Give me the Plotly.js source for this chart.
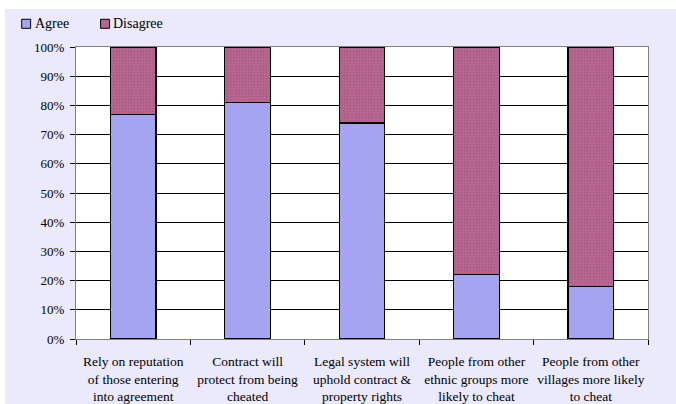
<!DOCTYPE html>
<html>
<head>
<meta charset="utf-8">
<script src="https://cdn.plot.ly/plotly-3.0.1.min.js"></script>
<style>
html,body{margin:0;padding:0;background:#ffffff;width:676px;height:404px;overflow:hidden;}
#chart{position:absolute;left:5px;top:9px;width:671px;height:395px;}
</style>
</head>
<body>
<div id="chart"></div>
<script>
var categories = [
  "Rely on reputation<br>of those entering<br>into agreement",
  "Contract will<br>protect from being<br>cheated",
  "Legal system will<br>uphold contract &<br>property rights",
  "People from other<br>ethnic groups more<br>likely to cheat",
  "People from other<br>villages more likely<br>to cheat"
];
var seriesNames = ["Agree", "Disagree"];
var agree = [77, 81, 74, 22, 18];
var disagree = [23, 19, 26, 78, 82];
var seriesColors = ["#a4a4f0", "#b86690"];
var yTickVals = [0,10,20,30,40,50,60,70,80,90,100];
var yTickText = ["0%","10%","20%","30%","40%","50%","60%","70%","80%","90%","100%"];

var fontFam = "'Liberation Serif', 'Times New Roman', 'DejaVu Serif', serif";

var traces = [
  {type:"bar", name:seriesNames[0], x:categories, y:agree,
   marker:{color:seriesColors[0], line:{color:"#000000", width:1.2}}},
  {type:"bar", name:seriesNames[1], x:categories, y:disagree,
   marker:{color:seriesColors[1], line:{color:"#000000", width:1.2},
     pattern:{shape:".", size:3, solidity:0.25, fgcolor:"#a05a80", bgcolor:seriesColors[1]}}}
];

var shapes = [];
var annotations = [];
var legX = [-0.095, 0.043];
for (var i=0;i<seriesNames.length;i++){
  shapes.push({type:"rect", xref:"paper", yref:"paper",
    x0:legX[i], x1:legX[i]+0.0157, y0:1.064, y1:1.095,
    fillcolor:seriesColors[i], line:{color:"#000000", width:1}});
  annotations.push({xref:"paper", yref:"paper", x:legX[i]+0.019, y:1.081,
    xanchor:"left", yanchor:"middle", showarrow:false, text:seriesNames[i],
    font:{family:fontFam, size:14, color:"#000000"}});
}

var layout = {
  width:671, height:395,
  barmode:"stack",
  bargap:0.6,
  paper_bgcolor:"#eaeafc",
  plot_bgcolor:"#ffffff",
  margin:{l:71, r:28, t:38, b:65},
  showlegend:false,
  font:{family:fontFam, size:13, color:"#000000"},
  xaxis:{type:"category", showline:true, linecolor:"#808080", linewidth:1, mirror:true,
    ticks:"outside", tickson:"boundaries", ticklen:5, tickcolor:"#000000",
    ticklabelstandoff:10, tickangle:0, automargin:false,
    tickfont:{family:fontFam, size:13.5, color:"#000000"}, showgrid:false},
  yaxis:{range:[0,100], tickvals:yTickVals, ticktext:yTickText,
    showline:true, linecolor:"#808080", linewidth:1, mirror:true,
    ticks:"outside", ticklen:5, tickcolor:"#000000", ticklabelstandoff:3,
    showgrid:true, gridcolor:"#000000", gridwidth:1, zeroline:false, automargin:false,
    tickfont:{family:fontFam, size:13, color:"#000000"}},
  shapes:shapes,
  annotations:annotations
};

Plotly.newPlot("chart", traces, layout, {displayModeBar:false, staticPlot:true});
</script>
</body>
</html>
